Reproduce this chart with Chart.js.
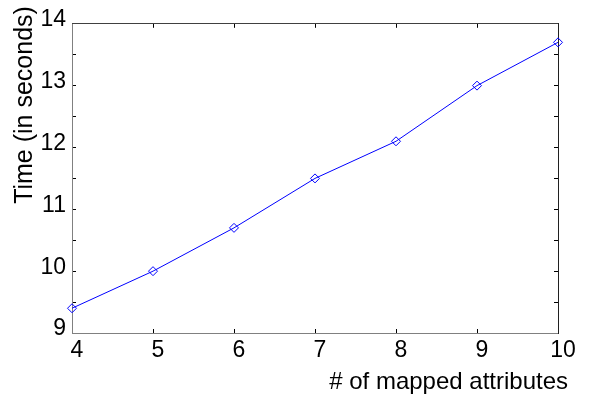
<!DOCTYPE html>
<html>
<head>
<meta charset="utf-8">
<script src="https://cdn.jsdelivr.net/npm/chart.js@4"></script>
<style>
    html, body { margin: 0; padding: 0; background: #fff; }
    #wrap { width: 589px; height: 394px; }
</style>
</head>
<body>
<div id="wrap"><canvas id="chart" width="589" height="394"></canvas></div>
<script>
// Values
const mappedAttributes = [4, 5, 6, 7, 8, 9, 10];
const timeSeconds = [9.4, 10.0, 10.7, 11.5, 12.1, 13.0, 13.7];

const xLabel = '# of mapped attributes';
const yLabel = 'Time (in seconds)';

const FONT = "'Liberation Sans', Arial, sans-serif";

// MATLAB-like axis titles, placed relative to the plot box
const axisTitles = {
    id: 'axisTitles',
    afterDraw(chart) {
        const { ctx, chartArea } = chart;
        ctx.save();
        ctx.fillStyle = '#000';
        ctx.font = `24px ${FONT}`;
        ctx.textAlign = 'right';
        ctx.textBaseline = 'alphabetic';
        ctx.fillText(xLabel, chartArea.right + 10, 389);

        ctx.translate(32, 105);
        ctx.rotate(-Math.PI / 2);
        ctx.font = `25px ${FONT}`;
        ctx.textAlign = 'center';
        ctx.fillText(yLabel, 0, 0);
        ctx.restore();
    }
};

const points = mappedAttributes.map((x, i) => ({ x, y: timeSeconds[i] }));

const inwardGrid = {
    drawOnChartArea: false,
    drawTicks: true,
    tickLength: -4,
    color: '#000'
};

new Chart(document.getElementById('chart'), {
    type: 'line',
    data: {
        datasets: [{
            data: points,
            borderColor: '#0000ff',
            borderWidth: 1,
            backgroundColor: 'rgba(0,0,0,0)',
            pointStyle: 'rectRot',
            pointRadius: 4.5,
            pointBorderWidth: 1,
            pointBorderColor: '#0000ff',
            pointBackgroundColor: 'rgba(0,0,0,0)',
            tension: 0,
            fill: false,
            clip: false
        }]
    },
    options: {
        responsive: false,
        animation: false,
        layout: { padding: { top: 22, right: 31, left: 0, bottom: 0 } },
        plugins: {
            legend: { display: false },
            tooltip: { enabled: false }
        },
        scales: {
            x: {
                type: 'linear',
                position: 'bottom',
                min: 4,
                max: 10,
                ticks: {
                    stepSize: 1,
                    padding: 8,
                    labelOffset: 5,
                    color: '#000',
                    font: { family: FONT, size: 23 },
                    maxRotation: 0
                },
                grid: inwardGrid,
                border: { color: '#808080', width: 1 },
                afterFit(scale) { scale.height = 61; }
            },
            y: {
                type: 'linear',
                position: 'left',
                min: 9,
                max: 14,
                ticks: {
                    stepSize: 0.5,
                    padding: 10,
                    labelOffset: -4,
                    color: '#000',
                    font: { family: FONT, size: 23 },
                    callback(value) {
                        return Number.isInteger(value) ? value : '';
                    }
                },
                grid: inwardGrid,
                border: { color: '#808080', width: 1 },
                afterFit(scale) { scale.width = 72; }
            },
            x2: {
                type: 'linear',
                position: 'top',
                min: 4,
                max: 10,
                ticks: { stepSize: 1, display: false },
                grid: inwardGrid,
                border: { color: '#404040', width: 1 },
                afterFit(scale) { scale.height = 0; }
            },
            y2: {
                type: 'linear',
                position: 'right',
                min: 9,
                max: 14,
                ticks: { stepSize: 0.5, display: false },
                grid: inwardGrid,
                border: { color: '#202020', width: 1 },
                afterFit(scale) { scale.width = 0; }
            }
        }
    },
    plugins: [axisTitles]
});
</script>
</body>
</html>
